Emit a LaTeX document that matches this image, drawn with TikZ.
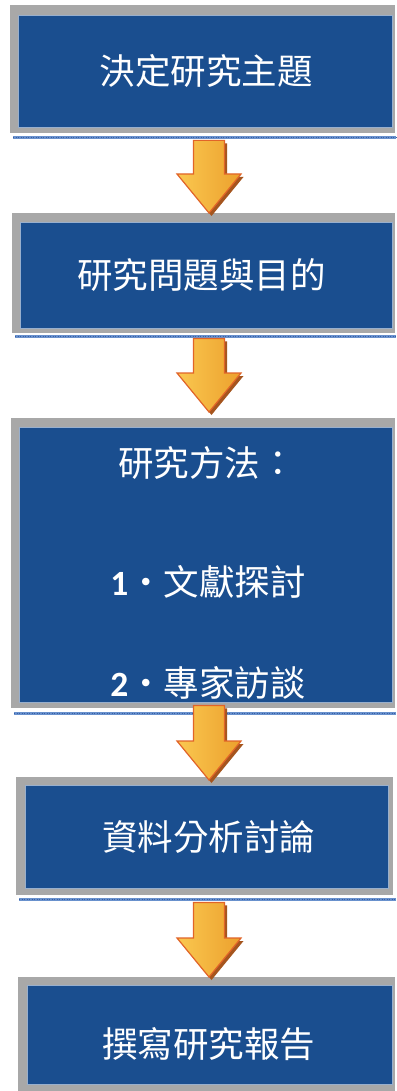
\documentclass[tikz,border=0pt]{standalone}
\usepackage{fontspec}
\setmainfont{Noto Sans CJK TC}
\newfontfamily\digitfont{Carlito}
\usetikzlibrary{calc}
\definecolor{boxblue}{RGB}{26,78,143}
\definecolor{framegray}{RGB}{168,168,168}
\definecolor{dotblue}{RGB}{105,145,205}
\definecolor{dotdark}{RGB}{55,95,165}
\definecolor{arrowfillL}{RGB}{250,200,80}
\definecolor{arrowfillR}{RGB}{236,160,45}
\definecolor{arrowline}{RGB}{225,100,40}
\definecolor{arrowshadow}{RGB}{165,85,30}
\begin{document}
\begin{tikzpicture}[x=1pt,y=-1pt,
  frame/.style={fill=framegray, inner sep=0pt, anchor=north west},
  bluebox/.style={fill=boxblue, draw=white!55!boxblue, line width=0.6pt, inner sep=0pt, anchor=north west},
  dotline/.style={draw=dotblue, line width=3.5pt,
    postaction={draw=dotdark, line width=1.5pt, dash pattern=on 1pt off 1.5pt}},
  txt/.style={text=white, font=\fontsize{35.5}{40}\selectfont, inner sep=0pt},
  blockarrow/.style={draw=arrowline, line width=1.2pt, line join=miter,
    left color=arrowfillL, right color=arrowfillR,
    preaction={fill=arrowshadow, transform canvas={shift={(2.5pt,-3pt)}}},
    to path={let \p1=(\tikztostart), \p2=(\tikztotarget) in
      (\x1-15.5pt,\y1) -- (\x1+15.5pt,\y1) -- (\x1+15.5pt,\y2+39pt) -- (\x1+32pt,\y2+39pt)
      -- (\x1,\y2) -- (\x1-32pt,\y2+39pt) -- (\x1-15.5pt,\y2+39pt) -- cycle}}
]
\fill[white] (0,0) rectangle (396,1091);
\useasboundingbox (0,0) rectangle (396,1091);

% box 1
\node[frame, minimum width=385pt, minimum height=128pt] (f1) at (10,5) {};
\node[bluebox, minimum width=374pt, minimum height=112pt] (b1) at (18,15) {};
\draw[dotline] ($(f1.south west)+(3,4)$) -- ($(f1.south east)+(1,4)$);
\node[txt] (t1) at ($(b1.center)+(1,0)$) {決定研究主題};

% box 2
\node[frame, minimum width=383pt, minimum height=120pt] (f2) at (12,213) {};
\node[bluebox, minimum width=372pt, minimum height=106pt] (b2) at (20,222) {};
\draw[dotline] ($(f2.south west)+(3,3)$) -- ($(f2.south east)+(1,3)$);
\node[txt] (t2) at ($(b2.center)+(-5,0)$) {研究問題與目的};

% box 3
\node[frame, minimum width=384pt, minimum height=290pt] (f3) at (11,418) {};
\node[bluebox, minimum width=373pt, minimum height=275pt] (b3) at (19,427) {};
\draw[dotline] ($(f3.south west)+(3,5)$) -- ($(f3.south east)+(1,5)$);
\node[txt] (t3a) at (207,463) {研究方法：};
\node[txt] (t3b) at (208,582) {{\digitfont\bfseries 1}・文獻探討};
\node[txt] (t3c) at (208,683) {{\digitfont\bfseries 2}・專家訪談};

% box 4
\node[frame, minimum width=377pt, minimum height=118pt] (f4) at (16,777) {};
\node[bluebox, minimum width=363pt, minimum height=103pt] (b4) at (25,785) {};
\draw[dotline] ($(f4.south west)+(3,4)$) -- ($(f4.south east)+(3,4)$);
\node[txt] (t4) at ($(b4.center)+(2,0)$) {資料分析討論};

% box 5
\node[frame, minimum width=377pt, minimum height=114pt] (f5) at (18,977) {};
\node[bluebox, minimum width=365pt, minimum height=99pt] (b5) at (27,985) {};
\node[txt] (t5) at ($(b5.center)+(-1,9)$) {撰寫研究報告};

% arrows
\coordinate (ax) at (209,0);
\draw[blockarrow] ($(ax |- f1.south)+(0,7)$) to (ax |- f2.north);
\draw[blockarrow] ($(ax |- f2.south)+(0,5)$) to ($(ax |- f3.north)+(0,-6)$);
\draw[blockarrow] ($(ax |- f3.south)+(0,-3)$) to ($(ax |- f4.north)+(0,3)$);
\draw[blockarrow] ($(ax |- f4.south)+(0,7)$) to (ax |- f5.north);
\end{tikzpicture}
\end{document}
